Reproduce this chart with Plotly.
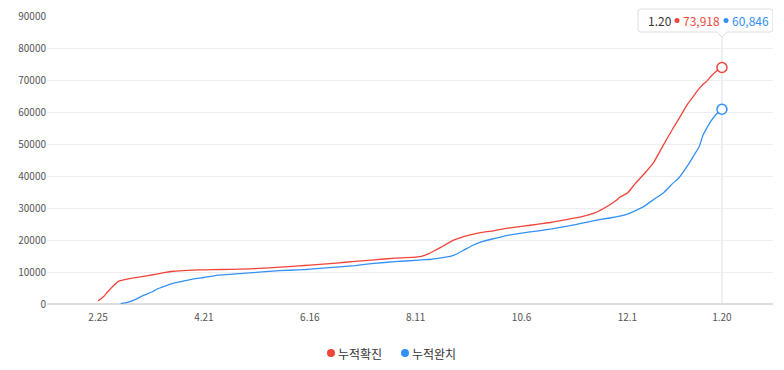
import plotly.graph_objects as go

dates = ["2020-02-25","2020-02-28","2020-03-01","2020-03-04","2020-03-07","2020-03-08","2020-03-12",
         "2020-03-15","2020-03-20","2020-03-25","2020-03-27","2020-03-31","2020-04-05","2020-04-10",
         "2020-04-15","2020-04-21","2020-04-30","2020-05-10","2020-05-20","2020-05-31","2020-06-10",
         "2020-06-16","2020-06-30","2020-07-10","2020-07-20","2020-07-31","2020-08-11","2020-08-14",
         "2020-08-18","2020-08-22","2020-08-26","2020-08-31","2020-09-05","2020-09-10","2020-09-15",
         "2020-09-20","2020-09-25","2020-09-30","2020-10-06","2020-10-15","2020-10-22","2020-10-31",
         "2020-11-07","2020-11-14","2020-11-20","2020-11-25","2020-11-27","2020-12-01","2020-12-05",
         "2020-12-10","2020-12-15","2020-12-20","2020-12-25","2020-12-28","2021-01-02","2021-01-05",
         "2021-01-08","2021-01-10","2021-01-12","2021-01-14","2021-01-17","2021-01-20"]

confirmed = [977, 2337, 3736, 5621, 7134, 7313, 7869,
             8162, 8652, 9137, 9332, 9786, 10237, 10450,
             10591, 10683, 10774, 10874, 11110, 11503, 11902,
             12155, 12800, 13293, 13771, 14336, 14660, 14873,
             15761, 17002, 18265, 19947, 21010, 21743, 22391,
             22783, 23341, 23812, 24239, 24988, 25543, 26511,
             27284, 28546, 30403, 32318, 33375, 34652, 37546,
             40786, 44364, 49665, 54770, 57680, 62593, 64979,
             67358, 68663, 69650, 71000, 72729, 73918]

recovered = [None, None, None, None, None, 130, 600,
             1200, 2700, 3900, 4600, 5500, 6500, 7117,
             7757, 8277, 9072, 9500, 9938, 10422, 10669,
             10881, 11537, 12019, 12691, 13233, 13642, 13817,
             13911, 14206, 14544, 15198, 16650, 18283, 19477,
             20234, 20922, 21590, 22180, 22863, 23464, 24395,
             25276, 26109, 26717, 27213, 27450, 28100, 29100,
             30600, 32700, 34700, 37700, 39300, 43400, 46300,
             49200, 52800, 55000, 57000, 59300, 60846]

series_names = ["누적확진", "누적완치"]
tick_dates = ["2020-02-25", "2020-04-21", "2020-06-16", "2020-08-11", "2020-10-06", "2020-12-01", "2021-01-20"]
tick_labels = ["2.25", "4.21", "6.16", "8.11", "10.6", "12.1", "1.20"]

RED = "#F0453A"
BLUE = "#3391F5"
FONT = "Noto Sans CJK KR"

# plot area in pixels: x 47..773, y 16..304
L, R, T, B = 47, 773, 16, 304
def px(x):
    return (x - L) / (R - L)
def py(y):
    return (B - y) / (B - T)

fig = go.Figure()
for vals, name, col in [(confirmed, series_names[0], RED), (recovered, series_names[1], BLUE)]:
    fig.add_trace(go.Scatter(x=dates, y=vals, mode="lines", name=name, showlegend=False,
                             line=dict(color=col, width=1.3, shape="spline", smoothing=0.5),
                             connectgaps=False))
for vals, name, col in [(confirmed, series_names[0], RED), (recovered, series_names[1], BLUE)]:
    fig.add_trace(go.Scatter(x=[dates[-1]], y=[vals[-1]], mode="markers", showlegend=False,
                             marker=dict(size=10, color="white", line=dict(color=col, width=1.5))))

# crosshair line
fig.add_shape(type="line", xref="x", yref="paper", x0=dates[-1], x1=dates[-1], y0=0, y1=py(37),
              line=dict(color="#dcdfe8", width=1), layer="below")

# tooltip box (rounded rect with pointer), anchored at the last date
box_path = ("M -81,0 L -5,0 L 0,-5 L 5,0 L 48,0 Q 51,0 51,3 L 51,20 Q 51,23 48,23 "
            "L -81,23 Q -84,23 -84,20 L -84,3 Q -84,0 -81,0 Z")
fig.add_shape(type="path", xref="x", yref="paper", xsizemode="pixel", ysizemode="pixel",
              xanchor=dates[-1], yanchor=py(32), path=box_path,
              fillcolor="white", line=dict(color="#dddddd", width=1), layer="above")

tip_y = py(20.5)
fig.add_annotation(xref="paper", yref="paper", x=px(646), y=tip_y, xanchor="left", yanchor="middle",
                   text=tick_labels[-1], showarrow=False, font=dict(family=FONT, size=12, color="#333"))
fig.add_annotation(xref="paper", yref="paper", x=px(681), y=tip_y, xanchor="left", yanchor="middle",
                   text=f"{confirmed[-1]:,}", showarrow=False, font=dict(family=FONT, size=12, color=RED))
fig.add_annotation(xref="paper", yref="paper", x=px(730), y=tip_y, xanchor="left", yanchor="middle",
                   text=f"{recovered[-1]:,}", showarrow=False, font=dict(family=FONT, size=12, color=BLUE))
for cx, col in [(677, RED), (726, BLUE)]:
    fig.add_shape(type="circle", xref="paper", yref="paper", xsizemode="pixel", ysizemode="pixel",
                  xanchor=px(cx), yanchor=tip_y, x0=-2.5, x1=2.5, y0=-2.5, y1=2.5,
                  fillcolor=col, line=dict(width=0))

# legend (custom)
leg_y = py(353)
for cx, name, col in [(331, series_names[0], RED), (405, series_names[1], BLUE)]:
    fig.add_shape(type="circle", xref="paper", yref="paper", xsizemode="pixel", ysizemode="pixel",
                  xanchor=px(cx), yanchor=leg_y, x0=-4, x1=4, y0=-4, y1=4,
                  fillcolor=col, line=dict(width=0))
    fig.add_annotation(xref="paper", yref="paper", x=px(cx + 5), y=leg_y, xanchor="left", yanchor="middle",
                       text=name, showarrow=False, font=dict(family=FONT, size=12, color="#333"))

fig.update_layout(
    width=784, height=370,
    margin=dict(l=L, r=784 - R, t=T, b=370 - B, autoexpand=False),
    paper_bgcolor="white", plot_bgcolor="white",
    showlegend=False,
    font=dict(family=FONT, size=10, color="#555"),
    xaxis=dict(type="date", range=["2020-01-29", "2021-02-16"], tickmode="array",
               tickvals=tick_dates, ticktext=tick_labels, showgrid=False, zeroline=False,
               showline=False, ticks="", ticklabelstandoff=6, tickfont=dict(size=10, color="#555")),
    yaxis=dict(range=[0, 90000], dtick=10000, tickformat="d", gridcolor="#eeeeee", gridwidth=1,
               zeroline=True, zerolinecolor="#dddddd", zerolinewidth=1.5, showline=False,
               ticks="", tickfont=dict(size=10, color="#555")),
)

fig.write_html("out.html", config={"displayModeBar": False},
               post_script="document.body.style.margin='0';")
